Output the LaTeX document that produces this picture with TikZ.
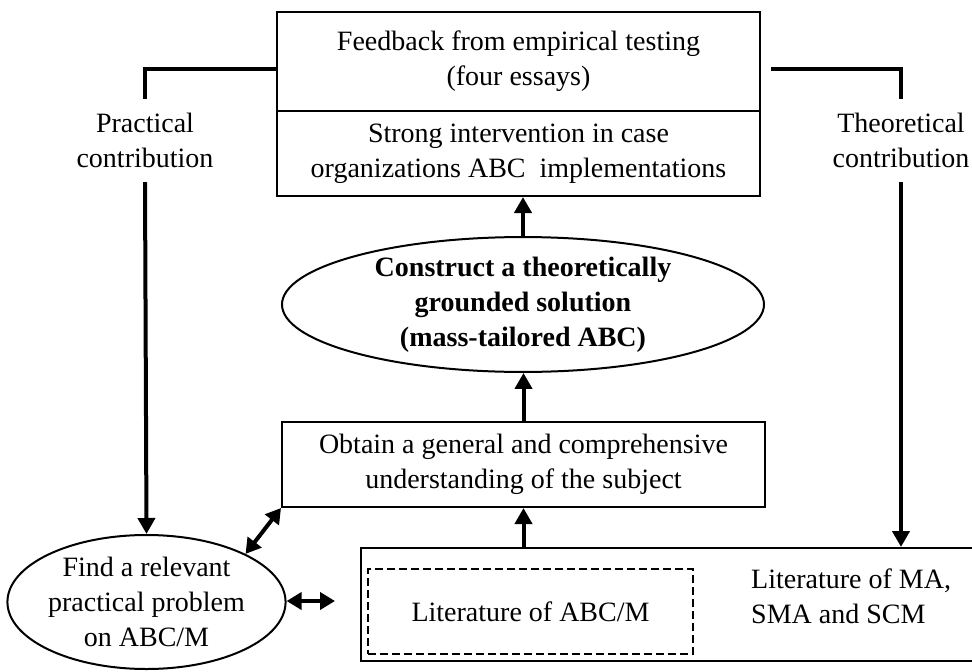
\documentclass[tikz,border=0pt]{standalone}
\usepackage{fontspec}
\setmainfont{Liberation Serif}
\usetikzlibrary{arrows.meta,shapes.geometric}
\begin{document}
\begin{tikzpicture}[x=1pt,y=-1pt,
  every node/.style={font=\fontsize{28}{35}\selectfont, align=center, inner sep=0pt},
  frame/.style={draw, line width=2pt, rectangle},
  oval/.style={draw, line width=2pt, ellipse},
  bracket/.style={line width=4.5pt},
  flow/.style={line width=4pt, -{Triangle[length=16pt,width=17pt]}},
  twoway/.style={line width=4pt, {Triangle[length=15pt,width=17pt]}-{Triangle[length=15pt,width=17pt]}}]
\useasboundingbox (0,0) rectangle (972,672);

% upper split box
\node[frame, minimum width=483pt, minimum height=99pt] (fb) at (518.5,61.5)
  {Feedback from empirical testing\\(four essays)};
\node[frame, minimum width=483pt, minimum height=85pt] (si) at (518.5,153.5)
  {Strong intervention in case\\organizations ABC\ \ implementations};

% central solution
\node[oval, minimum width=482pt, minimum height=133pt] (ec) at (523,304.5)
  {\bfseries Construct a theoretically\\\bfseries grounded solution\\\bfseries (mass-tailored ABC)};

% understanding box
\node[frame, minimum width=483pt, minimum height=85pt] (ob) at (523.5,464.5)
  {Obtain a general and comprehensive\\understanding of the subject};

% literature box, running past the right edge
\node[frame, minimum width=629pt, minimum height=113pt] (lit) at (675.5,604.5) {};
\node[draw, line width=2pt, dash pattern=on 8pt off 4pt,
      minimum width=325pt, minimum height=85pt] (abc) at (530.5,611.5)
  {Literature of ABC/M};
\node[anchor=west, align=left] (ma) at (751,596)
  {Literature of MA,\\SMA and SCM};

% practical problem
\node[oval, minimum width=267pt, minimum height=134pt] (pe) at (146.5,602)
  {Find a relevant\\practical problem\\on ABC/M};

% contribution labels
\node[minimum height=83pt] (pc) at (145,140.5) {Practical\\contribution};
\node[minimum height=83pt] (tc) at (901,140.5) {Theoretical\\contribution};

% feedback loops
\path (fb.west |- pc.north) ++(0,-30) coordinate (lb);
\draw[bracket] (fb.west |- lb) -- (pc.north |- lb) -- (pc.north);
\draw[flow] (pc.south) -- (pe.north);
\draw[bracket, shorten <=10pt] (fb.east |- lb) -- (tc.north |- lb) -- (tc.north);
\draw[flow] (tc.south) -- (tc.south |- lit.north);

% upward flow
\draw[flow] (ob.south |- lit.north) -- (ob.south);
\draw[flow] (ob.north) -- (ob.north |- ec.south);
\draw[flow] (ec.north) -- (ec.north |- si.south);

% two-way links
\coordinate (la) at (335,601);
\draw[twoway] (pe.north east) -- (ob.south west);
\draw[twoway] (pe.east |- la) -- (la);
\end{tikzpicture}
\end{document}
